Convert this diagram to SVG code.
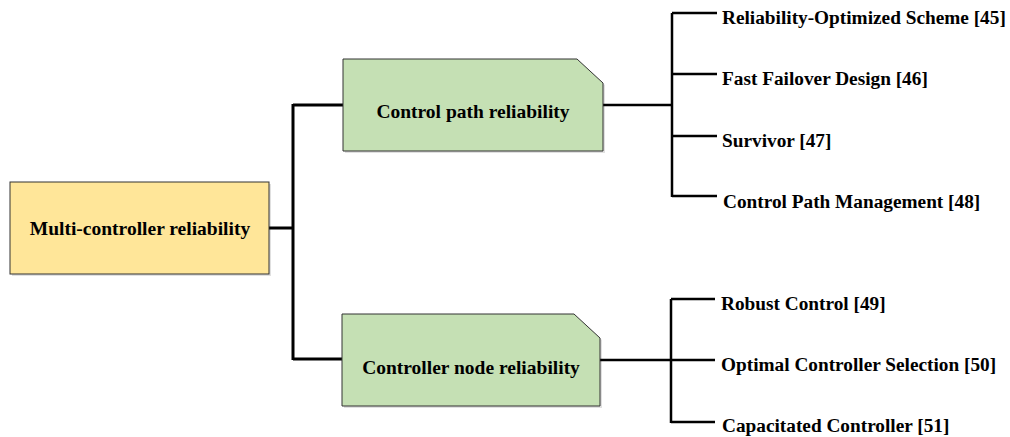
<svg xmlns="http://www.w3.org/2000/svg" width="1010" height="437" viewBox="0 0 1010 437">
<defs>
<style>
.lbl{font-family:"Liberation Serif","Times New Roman",serif;font-weight:bold;font-size:19.3px;fill:#000}
.box{font-family:"Liberation Serif","Times New Roman",serif;font-weight:bold;font-size:19.5px;fill:#000;text-anchor:middle}
.ln{stroke:#000;stroke-width:2.5;fill:none}
.thick{stroke:#000;stroke-width:3;fill:none}
.shadow{fill:#000;opacity:0.12}
</style>
</defs>
<rect width="1010" height="437" fill="#fff"/>
<g id="connectors">
<path class="thick" d="M269,228 H293 M293,104 V360 M293,105 H343 M293,359 H342"/>
<path class="ln" d="M603,105 H672 M672,13 V197 M672,13 H717 M672,74 H717 M672,136 H717 M672,196 H717"/>
<path class="ln" d="M600,360 H671 M671,299 V423 M671,299 H715 M671,360 H715 M671,422 H715"/>
</g>
<g id="node-root">
<rect class="shadow" x="12" y="184" width="259" height="92"/>
<rect x="10" y="182" width="259" height="92" fill="#ffe699" stroke="#333" stroke-width="1"/>
<text class="box" x="140" y="235">Multi-controller reliability</text>
</g>
<g id="node-path">
<path class="shadow" d="M345,61 H579 L605,85 V153 H345 Z"/>
<path d="M343,59 H577 L603,83 V151 H343 Z" fill="#c5e0b4" stroke="#333" stroke-width="1"/>
<text class="box" x="473" y="118">Control path reliability</text>
</g>
<g id="node-node">
<path class="shadow" d="M344,316 H576 L602,340 V408 H344 Z"/>
<path d="M342,314 H574 L600,338 V406 H342 Z" fill="#c5e0b4" stroke="#333" stroke-width="1"/>
<text class="box" x="471" y="374">Controller node reliability</text>
</g>
<g id="leaves">
<text class="lbl" x="722" y="24">Reliability-Optimized Scheme [45]</text>
<text class="lbl" x="722" y="85">Fast Failover Design [46]</text>
<text class="lbl" x="722" y="147">Survivor [47]</text>
<text class="lbl" x="723" y="208">Control Path Management [48]</text>
<text class="lbl" x="721" y="310">Robust Control [49]</text>
<text class="lbl" x="721" y="371">Optimal Controller Selection [50]</text>
<text class="lbl" x="722" y="432">Capacitated Controller [51]</text>
</g>
</svg>
